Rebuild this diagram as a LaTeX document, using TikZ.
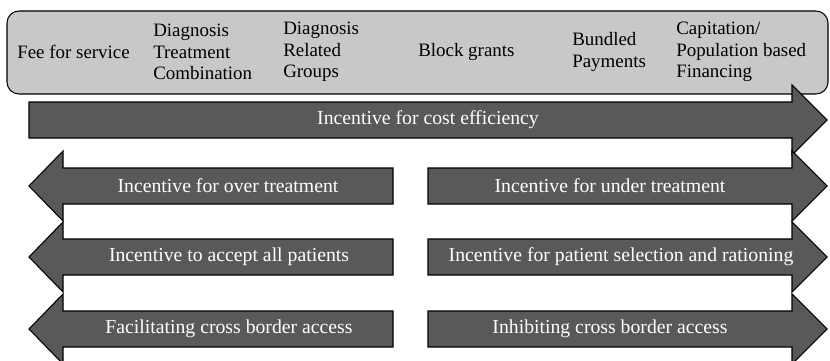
\documentclass[tikz,border=0pt]{standalone}
\usepackage{fontspec}
\setmainfont{Liberation Serif}

\definecolor{boxgray}{RGB}{200,200,200}
\definecolor{arrowgray}{RGB}{89,89,89}

\tikzset{
  scheme/.style={draw=black, line width=0.8pt, fill=boxgray, rounded corners=9pt},
  barrow/.style={draw=black, line width=0.8pt, fill=arrowgray},
  schemetext/.style={anchor=west, inner sep=0pt, align=left, font=\fontsize{14.2}{16.1}\selectfont},
  incentive/.style={inner sep=0pt, text=white, font=\fontsize{14.8}{17}\selectfont},
}

\begin{document}
\begin{tikzpicture}[x=0.75pt, y=-0.75pt]
  \clip (0,0) rectangle (830,360);
  % payment schemes
  \draw[scheme] (7,11) rectangle (828,94);
  \node[schemetext] (ffs) at (17,52) {Fee for service};
  \node[schemetext] (dtc) at (153,52) {Diagnosis\\Treatment\\Combination};
  \node[schemetext] (drg) at (283,52) {Diagnosis\\Related\\Groups};
  \node[schemetext] (block) at (418,52) {Block grants};
  \node[schemetext] (bundled) at (572,52) {Bundled\\Payments};
  \node[schemetext] (capit) at (676,52) {Capitation/\\Population based\\Financing};
  % cost efficiency arrow
  \draw[barrow] (29,102) -- (792,102) -- (792,85) -- (827,120) -- (792,155) -- (792,138) -- (29,138) -- cycle;
  \node[incentive] (cost) at (428,120) {Incentive for cost efficiency};
  % left arrows
  \draw[barrow] (393,168) -- (63,168) -- (63,151) -- (29,186) -- (63,221) -- (63,204) -- (393,204) -- cycle;
  \draw[barrow] (393,239) -- (63,239) -- (63,222) -- (29,257) -- (63,292) -- (63,275) -- (393,275) -- cycle;
  \draw[barrow] (393,311) -- (63,311) -- (63,294) -- (29,329) -- (63,364) -- (63,347) -- (393,347) -- cycle;
  \node[incentive] (over) at (228,186) {Incentive for over treatment};
  \node[incentive] (accept) at (229,257) {Incentive to accept all patients};
  \node[incentive] (facil) at (229,329) {Facilitating cross border access};
  % right arrows
  \draw[barrow] (428,168) -- (792,168) -- (792,151) -- (827,186) -- (792,221) -- (792,204) -- (428,204) -- cycle;
  \draw[barrow] (428,239) -- (792,239) -- (792,222) -- (827,257) -- (792,292) -- (792,275) -- (428,275) -- cycle;
  \draw[barrow] (428,311) -- (792,311) -- (792,294) -- (827,329) -- (792,364) -- (792,347) -- (428,347) -- cycle;
  \node[incentive] (under) at (610,186) {Incentive for under treatment};
  \node[incentive] (select) at (621,257) {Incentive for patient selection and rationing};
  \node[incentive] (inhib) at (610,329) {Inhibiting cross border access};
\end{tikzpicture}
\end{document}
